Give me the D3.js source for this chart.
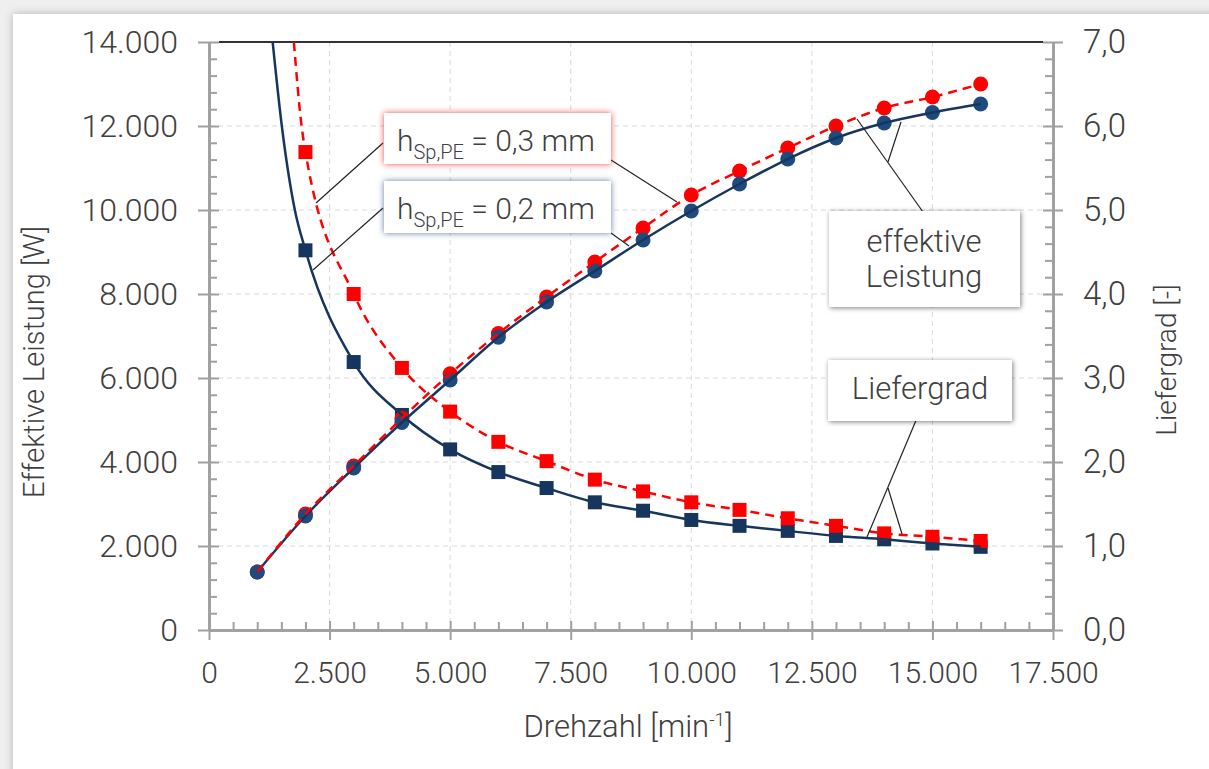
<!DOCTYPE html>
<html>
<head>
<meta charset="utf-8">
<script src="https://cdn.jsdelivr.net/npm/d3@7"></script>
<style>
  body { margin: 0; background: #efefef; }
  svg { display: block; font-family: Roboto, "Noto Sans", sans-serif; font-weight: 300; }
</style>
</head>
<body>
<script>
// Drehzahl in min^-1
var rpm = [1000, 2000, 3000, 4000, 5000, 6000, 7000, 8000, 9000, 10000, 11000, 12000, 13000, 14000, 15000, 16000];

// effektive Leistung [W]
var powerSp02 = [1380, 2714, 3857, 4940, 5952, 6970, 7810, 8548, 9286, 9976, 10619, 11214, 11714, 12071, 12320, 12524];
var powerSp03 = [1380, 2760, 3905, 5040, 6100, 7060, 7929, 8762, 9571, 10357, 10929, 11476, 12000, 12429, 12690, 13000];

// Liefergrad [-] (no point at 1000 rpm)
var rpmLg = [2000, 3000, 4000, 5000, 6000, 7000, 8000, 9000, 10000, 11000, 12000, 13000, 14000, 15000, 16000];
var lgSp02 = [4.52, 3.19, 2.56, 2.15, 1.88, 1.69, 1.52, 1.42, 1.31, 1.24, 1.18, 1.12, 1.08, 1.03, 0.99];
var lgSp03 = [5.69, 4.00, 3.12, 2.60, 2.24, 2.01, 1.79, 1.65, 1.52, 1.43, 1.33, 1.24, 1.15, 1.11, 1.06];

// trend line above the first point, read where it leaves the plot
var lgTrendHead02 = [[1320, 7.0], [1510, 6.0], [1780, 5.0]];
var lgTrendHead03 = [[1760, 7.0], [1920, 6.0]];

var xTicks = [0, 2500, 5000, 7500, 10000, 12500, 15000, 17500];
var yLeftTicks = [0, 2000, 4000, 6000, 8000, 10000, 12000, 14000];
var yRightTicks = [0, 1, 2, 3, 4, 5, 6, 7];

var navyLine = '#17365d';
var navySquare = '#17365d';
var navyDot = '#1f4a7e';
var red = '#ff0000';
var textColor = '#404040';
var axisColor = '#a0a0a0';

var svg, x, yL, yR, fmt;

window.document.addEventListener('DOMContentLoaded', init, false);

function init() {
    fmt = d3.formatLocale({decimal: ',', thousands: '.', grouping: [3], currency: ['', '']});
    svg = d3.select('body').append('svg')
        .attr('width', 1209)
        .attr('height', 769);

    x = d3.scaleLinear().domain([0, 17500]).range([209, 1053]);
    yL = d3.scaleLinear().domain([0, 14000]).range([630, 42]);
    yR = d3.scaleLinear().domain([0, 7]).range([630, 42]);

    createFilters();
    createPanel();
    createGrid();
    createAxes();
    createSeries();
    createLabels();
}

function createFilters() {
    var defs = svg.append('defs');
    addShadow(defs, 'panelShadow', '#000', 0.25, 4, 0, 0);
    addShadow(defs, 'glowRed', '#e02020', 0.8, 3, 0, 0);
    addShadow(defs, 'glowBlue', '#3b5a85', 0.8, 3, 0, 0);
    addShadow(defs, 'glowGray', '#000', 0.5, 2.5, 1, 1);
    defs.append('clipPath').attr('id', 'plotClip')
        .append('rect')
        .attr('x', 209).attr('y', 42)
        .attr('width', 844).attr('height', 588);
}

function addShadow(defs, id, color, opacity, blur, dx, dy) {
    defs.append('filter').attr('id', id)
        .attr('x', '-20%').attr('y', '-30%').attr('width', '140%').attr('height', '160%')
        .append('feDropShadow')
        .attr('dx', dx).attr('dy', dy)
        .attr('stdDeviation', blur)
        .attr('flood-color', color)
        .attr('flood-opacity', opacity);
}

function createPanel() {
    svg.append('rect')
        .attr('x', 13).attr('y', 14)
        .attr('width', 1230).attr('height', 800)
        .attr('fill', '#fff')
        .attr('filter', 'url(#panelShadow)');
}

function createGrid() {
    var g = svg.append('g')
        .attr('stroke', '#d9d9d9')
        .attr('stroke-width', 1)
        .attr('stroke-dasharray', '5,4');
    g.selectAll('line.v').data(xTicks.slice(1, -1)).enter().append('line')
        .attr('x1', d => x(d)).attr('x2', d => x(d))
        .attr('y1', 42).attr('y2', 630);
    g.selectAll('line.h').data(yLeftTicks.slice(1, -1)).enter().append('line')
        .attr('x1', 209).attr('x2', 1053)
        .attr('y1', d => yL(d)).attr('y2', d => yL(d));
    // black frame line on top
    svg.append('line')
        .attr('x1', 219).attr('x2', 1043)
        .attr('y1', 42).attr('y2', 42)
        .attr('stroke', '#333').attr('stroke-width', 2);
}

function minorTicks(major) {
    var out = [];
    for (var i = 0; i < major.length - 1; i++) {
        var step = (major[i + 1] - major[i]) / 5;
        for (var k = 1; k < 5; k++) out.push(major[i] + k * step);
    }
    return out;
}

function styleAxis(g, size) {
    g.select('.domain').attr('stroke', axisColor).attr('stroke-width', 2.5);
    g.selectAll('.tick line').attr('stroke', axisColor).attr('stroke-width', 2);
    g.selectAll('.tick text')
        .attr('fill', textColor)
        .style('font-size', size + 'px')
        .style('font-weight', 300)
        .style('font-family', 'Roboto, sans-serif');
}

function createAxes() {
    // left
    var gl = svg.append('g').attr('transform', 'translate(209,0)');
    gl.append('g').call(d3.axisLeft(yL).tickValues(minorTicks(yLeftTicks)).tickSize(-8).tickFormat('').tickSizeOuter(0))
        .call(g => styleAxis(g, 0));
    gl.append('g').call(d3.axisLeft(yL).tickValues(yLeftTicks).tickSize(-10).tickFormat('').tickSizeOuter(0))
        .call(g => styleAxis(g, 0));
    gl.append('g').call(d3.axisLeft(yL).tickValues(yLeftTicks).tickSize(11).tickPadding(20)
            .tickFormat(fmt.format(',.0f')).tickSizeOuter(0))
        .call(g => styleAxis(g, 32));

    // right
    var gr = svg.append('g').attr('transform', 'translate(1053,0)');
    gr.append('g').call(d3.axisRight(yR).tickValues(minorTicks(yRightTicks)).tickSize(-8).tickFormat('').tickSizeOuter(0))
        .call(g => styleAxis(g, 0));
    gr.append('g').call(d3.axisRight(yR).tickValues(yRightTicks).tickSize(-10).tickFormat('').tickSizeOuter(0))
        .call(g => styleAxis(g, 0));
    gr.append('g').call(d3.axisRight(yR).tickValues(yRightTicks).tickSize(10).tickPadding(20)
            .tickFormat(fmt.format(',.1f')).tickSizeOuter(0))
        .call(g => styleAxis(g, 33));

    // bottom
    var gb = svg.append('g').attr('transform', 'translate(0,630)');
    gb.append('g').call(d3.axisBottom(x).tickValues(minorTicks(xTicks)).tickSize(-8).tickFormat('').tickSizeOuter(0))
        .call(g => styleAxis(g, 0));
    gb.append('g').call(d3.axisBottom(x).tickValues(xTicks).tickSize(-9).tickFormat('').tickSizeOuter(0))
        .call(g => styleAxis(g, 0));
    gb.append('g').call(d3.axisBottom(x).tickValues(xTicks).tickSize(10).tickPadding(22)
            .tickFormat(fmt.format(',.0f')).tickSizeOuter(0))
        .call(g => styleAxis(g, 30));
}

function createSeries() {
    var plot = svg.append('g').attr('clip-path', 'url(#plotClip)');

    var powerLine = d3.line()
        .x(d => x(d[0])).y(d => yL(d[1]))
        .curve(d3.curveMonotoneX);
    var lgLine = d3.line()
        .x(d => x(d[0])).y(d => yR(d[1]))
        .curve(d3.curveMonotoneX);

    var p02 = d3.zip(rpm, powerSp02);
    var p03 = d3.zip(rpm, powerSp03);
    var l02 = d3.zip(rpmLg, lgSp02);
    var l03 = d3.zip(rpmLg, lgSp03);

    // markers
    drawSquares(plot, l02, navySquare);
    drawSquares(plot, l03, red);
    drawDots(plot, p03, red);
    drawDots(plot, p02, navyDot);

    // lines
    plot.append('path').datum(p02).attr('d', powerLine)
        .attr('fill', 'none').attr('stroke', navyLine).attr('stroke-width', 2.5);
    plot.append('path').datum(lgTrendHead02.concat(l02)).attr('d', lgLine)
        .attr('fill', 'none').attr('stroke', navyLine).attr('stroke-width', 2.5);
    plot.append('path').datum(p03).attr('d', powerLine)
        .attr('fill', 'none').attr('stroke', red).attr('stroke-width', 2.5)
        .attr('stroke-dasharray', '9,6');
    plot.append('path').datum(lgTrendHead03.concat(l03)).attr('d', lgLine)
        .attr('fill', 'none').attr('stroke', red).attr('stroke-width', 2.5)
        .attr('stroke-dasharray', '9,6');
}

function drawSquares(g, data, color) {
    g.append('g').selectAll('rect').data(data).enter().append('rect')
        .attr('x', d => x(d[0]) - 7)
        .attr('y', d => yR(d[1]) - 7)
        .attr('width', 14).attr('height', 14)
        .attr('fill', color);
}

function drawDots(g, data, color) {
    g.append('g').selectAll('circle').data(data).enter().append('circle')
        .attr('cx', d => x(d[0]))
        .attr('cy', d => yL(d[1]))
        .attr('r', 7.5)
        .attr('fill', color);
}

function leader(x1, y1, x2, y2) {
    svg.append('line')
        .attr('x1', x1).attr('y1', y1)
        .attr('x2', x2).attr('y2', y2)
        .attr('stroke', '#222').attr('stroke-width', 1.2);
}

function box(bx, by, bw, bh, filter) {
    svg.append('rect')
        .attr('x', bx).attr('y', by)
        .attr('width', bw).attr('height', bh)
        .attr('fill', '#fff')
        .attr('filter', 'url(#' + filter + ')');
}

function hLabel(tx, ty, value) {
    var t = svg.append('text')
        .attr('x', tx).attr('y', ty)
        .attr('fill', textColor)
        .style('font-size', '30px');
    t.append('tspan').text('h');
    t.append('tspan').attr('dy', 8).style('font-size', '20px').text('Sp,PE');
    t.append('tspan').attr('dy', -8).text(' = ' + value);
}

function createLabels() {
    // leader lines
    leader(383, 143, 316, 203);
    leader(611, 160, 677, 202);
    leader(383, 208, 313, 270);
    leader(611, 233, 629, 246);
    leader(923, 212, 857, 119);
    leader(888, 162, 901, 122);
    leader(917, 418, 867, 537);
    leader(888, 488, 902, 534);

    box(384, 113, 227, 51, 'glowRed');
    hLabel(397, 151, '0,3 mm');
    box(384, 181, 227, 52, 'glowBlue');
    hLabel(397, 219, '0,2 mm');

    box(829, 211, 191, 96, 'glowGray');
    svg.append('text').attr('x', 924).attr('y', 252)
        .attr('text-anchor', 'middle').attr('fill', textColor)
        .style('font-size', '31px').text('effektive');
    svg.append('text').attr('x', 924).attr('y', 287)
        .attr('text-anchor', 'middle').attr('fill', textColor)
        .style('font-size', '31px').text('Leistung');

    box(828, 360, 184, 61, 'glowGray');
    svg.append('text').attr('x', 920).attr('y', 399)
        .attr('text-anchor', 'middle').attr('fill', textColor)
        .style('font-size', '31px').text('Liefergrad');

    // axis titles
    svg.append('text')
        .attr('transform', 'translate(44,362) rotate(-90)')
        .attr('text-anchor', 'middle').attr('fill', textColor)
        .style('font-size', '29px').text('Effektive Leistung [W]');
    svg.append('text')
        .attr('transform', 'translate(1176,360) rotate(-90)')
        .attr('text-anchor', 'middle').attr('fill', textColor)
        .style('font-size', '28px').text('Liefergrad [-]');
    var xt = svg.append('text')
        .attr('x', 628).attr('y', 737)
        .attr('text-anchor', 'middle').attr('fill', textColor)
        .style('font-size', '31px');
    xt.append('tspan').text('Drehzahl [min');
    xt.append('tspan').attr('dy', -11).style('font-size', '19px').text('-1');
    xt.append('tspan').attr('dy', 11).text(']');
}
</script>
</body>
</html>
